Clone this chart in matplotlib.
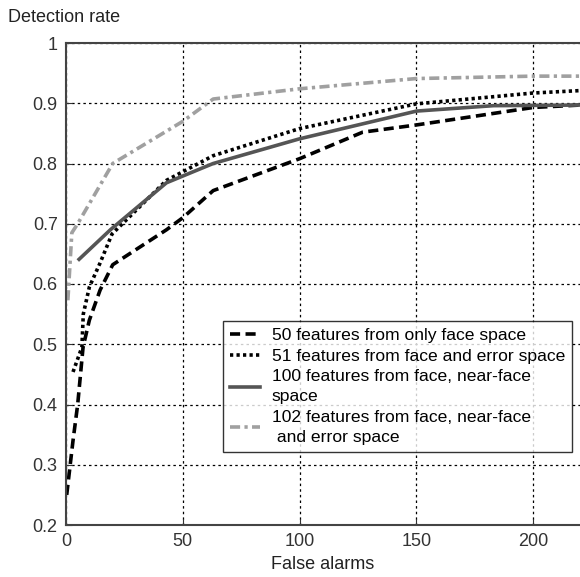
import matplotlib
matplotlib.use("Agg")
import matplotlib.pyplot as plt

# values
x_face = [0.3, 3, 5, 7.3, 10, 14.6, 20, 43, 50, 63, 100, 127, 150, 200, 220]
y_face = [0.25, 0.34, 0.40, 0.495, 0.54, 0.59, 0.632, 0.69, 0.71, 0.755, 0.808, 0.852, 0.864, 0.893, 0.897]

x_err = [3, 6.8, 7.4, 10, 14.6, 19.7, 43, 63, 100, 150, 200, 220]
y_err = [0.454, 0.495, 0.55, 0.595, 0.635, 0.683, 0.772, 0.813, 0.858, 0.899, 0.917, 0.921]

x_near = [5.6, 19, 43, 63, 100, 150, 183, 220]
y_near = [0.641, 0.69, 0.768, 0.80, 0.841, 0.887, 0.896, 0.897]

x_all = [0.8, 2.5, 5, 20, 50, 63, 100, 150, 200, 220]
y_all = [0.573, 0.685, 0.70, 0.80, 0.870, 0.907, 0.924, 0.941, 0.945, 0.945]

labels = ["50 features from only face space",
          "51 features from face and error space",
          "100 features from face, near-face\nspace",
          "102 features from face, near-face\n and error space"]

plt.rcParams["font.family"] = ["Liberation Sans", "DejaVu Sans"]

fig = plt.figure(figsize=(5.8, 5.77), dpi=100)
ax = fig.add_axes([66 / 580, 52 / 577, 1 - 66 / 580, (525 - 43) / 577])

ax.plot(x_face, y_face, color="black", lw=2.6, dashes=(2.8, 1.5), label=labels[0])
ax.plot(x_err, y_err, color="black", lw=2.6, dashes=(0.9, 0.9), label=labels[1])
ax.plot(x_near, y_near, color="#555555", lw=2.6, label=labels[2])
ax.plot(x_all, y_all, color="#a0a0a0", lw=2.6, dashes=(2.8, 1.2, 0.9, 1.2), label=labels[3])

ax.set_xlim(0, 220)
ax.set_ylim(0.2, 1.0)
ax.set_xticks([0, 50, 100, 150, 200])
ax.set_yticks([0.2, 0.3, 0.4, 0.5, 0.6, 0.7, 0.8, 0.9, 1.0])
ax.set_yticklabels(["0.2", "0.3", "0.4", "0.5", "0.6", "0.7", "0.8", "0.9", "1"])
ax.tick_params(direction="in", length=4, labelsize=13, colors="#333333", pad=6)
ax.grid(True, color="black", lw=0.9, linestyle=(0, (2, 2.5)))

for s in ["top", "left", "bottom"]:
    ax.spines[s].set_color("#444444")
    ax.spines[s].set_linewidth(1.5)
ax.spines["right"].set_visible(False)

ax.set_xlabel("False alarms", fontsize=13, color="#222222", labelpad=4)
fig.text(8 / 580, 1 - 18 / 577, "Detection rate", fontsize=13, color="#222222",
         ha="left", va="center")

leg = ax.legend(loc="upper left", bbox_to_anchor=((223 - 66) / 514, (525 - 321) / 482),
                borderaxespad=0, fontsize=12.6, frameon=True, fancybox=False,
                handlelength=1.7, handletextpad=0.7, borderpad=0.4, labelspacing=0.3)
for t in leg.get_texts():
    t.set_linespacing(1.45)
leg.get_frame().set_edgecolor("black")
leg.get_frame().set_linewidth(1.0)

fig.savefig("out.png", dpi=100)
